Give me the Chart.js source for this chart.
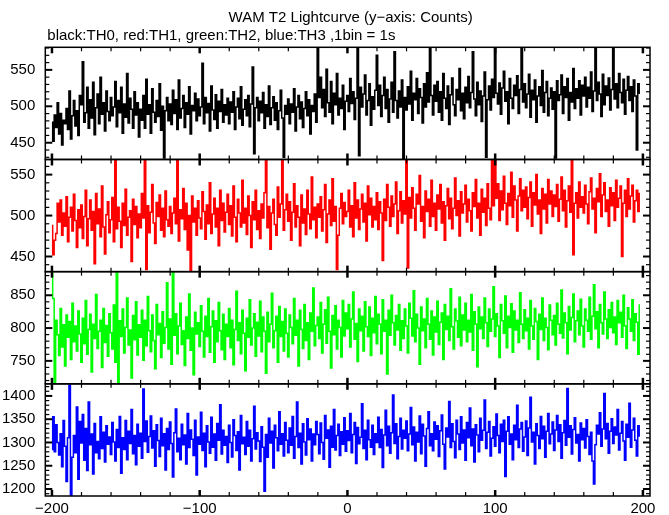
<!DOCTYPE html>
<html>
<head>
<meta charset="utf-8">
<title>WAM T2 Lightcurve</title>
<script src="https://cdn.jsdelivr.net/npm/chart.js@4/dist/chart.umd.min.js"></script>
<style>
  html, body { margin: 0; padding: 0; background: #fff; }
  canvas { display: block; }
</style>
</head>
<body>
<canvas id="lc" width="669" height="515"></canvas>
<script>
// Light curve values, one bin per second starting at t = -200 s
const binStart = -200;

const th0Counts = [
  478, 452, 488, 471, 505, 462, 490, 447, 481, 476, 497, 468, 521, 455, 487, 508, 473, 494, 460, 515,
  502, 561, 478, 491, 526, 470, 509, 484, 533, 461, 498, 517, 476, 540, 489, 505, 466, 521, 493, 480,
  512, 487, 499, 534, 472, 508, 491, 526, 463, 503, 485, 545, 477, 511, 496, 470, 520, 488, 505, 458,
  496, 481, 515, 470, 537, 489, 502, 463, 524, 492, 478, 508, 486, 531, 467, 500, 429, 494, 512, 480,
  503, 475, 522, 490, 509, 468, 536, 484, 497, 515, 471, 505, 489, 527, 462, 501, 494, 518, 480, 510,
  487, 499, 559, 476, 512, 491, 504, 466, 528, 495, 482, 516, 470, 507, 493, 523, 478, 502, 488, 511,
  476, 506, 492, 520, 468, 499, 511, 483, 527, 474, 496, 509, 487, 515, 472, 503, 554, 435, 498, 512,
  480, 507, 491, 519, 470, 502, 486, 528, 475, 498, 513, 481, 505, 468, 494, 522, 484, 430, 501, 489,
  510, 476, 503, 492, 524, 466, 499, 515, 483, 506, 471, 497, 520, 487, 509, 462, 501, 493, 517, 478,
  580, 512, 540, 498, 523, 486, 551, 505, 492, 534, 476, 518, 502, 545, 488, 511, 497, 529, 468, 507,
  515, 493, 538, 504, 520, 482, 511, 579, 432, 526, 499, 517, 543, 488, 508, 531, 474, 513, 496, 522,
  570, 501, 529, 486, 515, 540, 497, 523, 478, 510, 533, 492, 575, 508, 484, 521, 499, 536, 428, 512,
  495, 527, 503, 548, 481, 518, 509, 538, 490, 524, 512, 477, 531, 499, 546, 506, 580, 515, 488, 529,
  507, 534, 492, 520, 481, 545, 511, 497, 528, 475, 516, 539, 502, 487, 523, 509, 552, 494, 518, 483,
  526, 505, 541, 498, 519, 575, 510, 487, 533, 502, 521, 479, 514, 547, 430, 509, 528, 495, 537, 512,
  580, 518, 503, 532, 489, 525, 548, 507, 520, 476, 538, 511, 497, 529, 515, 542, 490, 523, 580, 506,
  531, 498, 517, 544, 485, 522, 509, 536, 478, 514, 527, 501, 549, 492, 519, 534, 487, 511, 525, 496,
  520, 429, 535, 508, 516, 543, 490, 527, 512, 538, 481, 519, 506, 552, 497, 524, 511, 535, 488, 529,
  514, 540, 499, 526, 511, 547, 493, 521, 580, 508, 533, 517, 486, 544, 502, 528, 515, 539, 495, 523,
  580, 510, 531, 498, 545, 519, 505, 537, 489, 522, 541, 508, 527, 493, 536, 514, 440, 531, 518
];

const th1Counts = [
  488, 452, 470, 478, 515, 492, 519, 476, 503, 487, 523, 468, 498, 510, 481, 526, 494, 461, 507, 485,
  513, 472, 499, 531, 463, 496, 519, 482, 505, 441, 527, 490, 508, 474, 536, 486, 453, 501, 517, 479,
  495, 522, 468, 568, 484, 510, 493, 461, 515, 488, 532, 476, 498, 506, 444, 520, 489, 511, 473, 502,
  485, 527, 497, 568, 434, 512, 479, 504, 538, 491, 466, 516, 499, 525, 482, 509, 474, 530, 495, 487,
  511, 478, 503, 521, 490, 568, 469, 507, 496, 533, 483, 515, 458, 500, 432, 524, 492, 509, 476, 518,
  497, 484, 529, 505, 471, 513, 490, 540, 478, 502, 521, 486, 509, 463, 531, 494, 515, 480, 504, 526,
  489, 512, 475, 536, 498, 468, 520, 503, 486, 543, 491, 509, 477, 524, 500, 461, 517, 495, 531, 483,
  506, 472, 514, 497, 528, 568, 485, 511, 459, 503, 520, 489, 476, 535, 498, 514, 568, 482, 507, 526,
  493, 517, 470, 504, 539, 486, 512, 498, 463, 525, 491, 508, 477, 531, 502, 484, 547, 495, 510, 473,
  514, 498, 523, 481, 507, 538, 467, 502, 519, 488, 545, 493, 511, 434, 476, 509, 527, 490, 516, 499,
  505, 531, 486, 512, 474, 540, 497, 519, 483, 508, 526, 492, 515, 469, 536, 501, 521, 486, 511, 495,
  528, 483, 517, 503, 445, 520, 494, 538, 510, 487, 524, 499, 514, 541, 478, 506, 529, 491, 518, 502,
  568, 436, 522, 497, 534, 509, 482, 526, 514, 549, 493, 511, 473, 530, 505, 520, 487, 543, 499, 515,
  482, 525, 508, 538, 491, 517, 470, 512, 533, 496, 521, 484, 509, 546, 500, 518, 475, 529, 503, 514,
  537, 492, 520, 506, 481, 528, 511, 544, 497, 515, 476, 532, 504, 521, 488, 539, 509, 495, 568, 512,
  568, 521, 539, 494, 530, 507, 548, 515, 489, 527, 512, 553, 498, 536, 519, 481, 524, 545, 506, 531,
  510, 535, 496, 522, 541, 487, 528, 513, 550, 502, 519, 478, 533, 508, 526, 491, 544, 514, 530, 499,
  525, 511, 538, 493, 520, 547, 506, 531, 486, 518, 536, 504, 568, 452, 515, 528, 497, 541, 510, 523,
  503, 537, 514, 490, 529, 546, 508, 521, 479, 533, 517, 551, 499, 525, 540, 505, 519, 487, 534, 512,
  528, 494, 543, 510, 521, 536, 450, 515, 531, 499, 545, 508, 524, 537, 492, 518, 531, 505, 527
];

const th2Counts = [
  885, 845, 717, 812, 790, 758, 830, 771, 805, 742, 820, 786, 810, 752, 838, 779, 803, 765, 826, 791,
  748, 815, 776, 842, 760, 798, 821, 733, 806, 784, 851, 769, 795, 812, 740, 830, 778, 804, 757, 822,
  793, 768, 835, 748, 885, 717, 811, 787, 829, 762, 801, 846, 774, 797, 724, 819, 782, 840, 759, 805,
  786, 827, 751, 812, 773, 848, 796, 764, 820, 781, 738, 836, 790, 807, 755, 825, 777, 801, 869, 768,
  814, 745, 885, 789, 822, 761, 803, 838, 775, 796, 743, 817, 784, 852, 766, 800, 729, 824, 791, 808,
  772, 834, 795, 756, 818, 787, 845, 763, 802, 826, 748, 811, 779, 839, 796, 767, 821, 752, 806, 787,
  830, 770, 812, 744, 798, 856, 781, 808, 761, 827, 792, 735, 815, 786, 843, 774, 800, 822, 757, 809,
  788, 841, 764, 817, 795, 731, 824, 779, 806, 853, 770, 796, 818, 748, 833, 787, 810, 765, 829, 792,
  756, 820, 801, 776, 845, 789, 812, 742, 827, 798, 769, 836, 781, 808, 752, 823, 795, 861, 773, 804,
  817, 784, 839, 762, 806, 828, 777, 847, 795, 739, 819, 790, 834, 768, 812, 801, 756, 842, 788, 823,
  799, 836, 771, 814, 855, 783, 807, 749, 829, 796, 818, 765, 840, 802, 787, 832, 758, 815, 793, 848,
  776, 821, 806, 761, 843, 795, 812, 730, 827, 789, 850, 808, 774, 819, 797, 836, 766, 811, 784, 829,
  803, 762, 838, 815, 788, 857, 779, 821, 800, 745, 832, 796, 814, 770, 845, 806, 783, 826, 759, 817,
  794, 841, 775, 809, 823, 752, 836, 798, 818, 781, 860, 802, 768, 829, 811, 786, 847, 773, 820, 797,
  838, 779, 812, 794, 851, 766, 825, 806, 741, 832, 799, 817, 784, 846, 808, 772, 829, 795, 814, 863,
  787, 822, 803, 755, 836, 811, 792, 849, 770, 818, 801, 837, 763, 826, 797, 812, 778, 854, 806, 784,
  828, 796, 815, 768, 842, 803, 783, 830, 810, 752, 821, 798, 846, 781, 815, 801, 767, 835, 812, 790,
  819, 774, 838, 806, 792, 858, 785, 823, 808, 761, 833, 797, 816, 852, 779, 811, 826, 790, 844, 803,
  771, 829, 812, 795, 847, 783, 818, 866, 799, 825, 770, 836, 808, 791, 855, 814, 784, 828, 801, 839,
  793, 817, 775, 842, 808, 824, 786, 850, 803, 769, 831, 814, 795, 843, 781, 822, 809, 760, 835
];

const th3Counts = [
  1285, 1355, 1280, 1338, 1300, 1273, 1319, 1248, 1347, 1292, 1216, 1310, 1423, 1186, 1268, 1315, 1278, 1376, 1221, 1345,
  1299, 1360, 1262, 1330, 1240, 1387, 1295, 1318, 1232, 1341, 1278, 1302, 1265, 1355, 1287, 1322, 1258, 1336, 1296, 1312,
  1274, 1343, 1301, 1260, 1328, 1289, 1356, 1234, 1310, 1285, 1347, 1263, 1324, 1298, 1371, 1276, 1315, 1252, 1339, 1292,
  1320, 1266, 1415, 1302, 1346, 1279, 1313, 1357, 1288, 1325, 1249, 1338, 1304, 1270, 1352, 1293, 1319, 1241, 1330, 1285,
  1344, 1298, 1226, 1321, 1372, 1280, 1309, 1263, 1339, 1295, 1316, 1254, 1362, 1289, 1327, 1307, 1272, 1348, 1230, 1312,
  1296, 1365, 1283, 1320, 1248, 1336, 1301, 1277, 1354, 1290, 1318, 1262, 1341, 1305, 1381, 1275, 1326, 1294, 1313, 1257,
  1337, 1300, 1269, 1349, 1315, 1283, 1323, 1241, 1358, 1297, 1311, 1274, 1345, 1292, 1326, 1260, 1308, 1378, 1286, 1321,
  1303, 1259, 1334, 1290, 1195, 1317, 1268, 1352, 1299, 1324, 1245, 1337, 1310, 1282, 1366, 1296, 1319, 1271, 1343, 1305,
  1278, 1331, 1294, 1356, 1266, 1313, 1387, 1289, 1320, 1254, 1340, 1301, 1273, 1351, 1306, 1329, 1260, 1318, 1295, 1345,
  1317, 1276, 1342, 1300, 1264, 1358, 1309, 1327, 1247, 1335, 1290, 1371, 1284, 1315, 1339, 1272, 1323, 1296, 1353, 1281,
  1325, 1304, 1362, 1278, 1317, 1343, 1255, 1332, 1297, 1311, 1383, 1287, 1326, 1263, 1348, 1306, 1290, 1337, 1274, 1319,
  1300, 1354, 1289, 1328, 1246, 1316, 1369, 1293, 1335, 1277, 1321, 1402, 1298, 1340, 1265, 1313, 1352, 1286, 1326, 1309,
  1346, 1282, 1318, 1375, 1295, 1333, 1260, 1322, 1301, 1357, 1276, 1339, 1314, 1249, 1330, 1366, 1293, 1319, 1282, 1344,
  1307, 1336, 1270, 1325, 1359, 1296, 1243, 1331, 1312, 1388, 1289, 1340, 1302, 1267, 1348, 1318, 1285, 1355, 1299, 1327,
  1262, 1343, 1310, 1374, 1293, 1329, 1258, 1338, 1316, 1280, 1352, 1305, 1326, 1391, 1287, 1322, 1345, 1271, 1309, 1334,
  1292, 1361, 1315, 1278, 1339, 1302, 1348, 1227, 1324, 1355, 1296, 1318, 1263, 1337, 1306, 1380, 1289, 1329, 1343, 1281,
  1312, 1346, 1272, 1331, 1397, 1301, 1322, 1254, 1340, 1315, 1287, 1356, 1308, 1335, 1268, 1324, 1362, 1297, 1318, 1344,
  1283, 1327, 1358, 1302, 1338, 1266, 1321, 1347, 1294, 1416, 1311, 1336, 1275, 1328, 1353, 1299, 1317, 1260, 1342, 1306,
  1330, 1288, 1349, 1313, 1274, 1322, 1260, 1211, 1295, 1337, 1318, 1364, 1292, 1329, 1405, 1308, 1341, 1277, 1324, 1351,
  1298, 1333, 1316, 1371, 1284, 1320, 1345, 1303, 1262, 1339, 1311, 1384, 1290, 1327, 1352, 1305, 1271, 1336, 1314
];

// Panel names, colours, y ranges and labelled ticks (top panel first)
const panelIds = ['y1', 'y2', 'y3', 'y4'];
const panelColors = ['#000000', '#ff0000', '#00ff00', '#0000ff'];
const panelRanges = [[427, 581], [431.5, 568.5], [715, 886], [1185, 1426]];
const panelTicks = [
  [450, 500, 550],
  [450, 500, 550],
  [750, 800, 850],
  [1200, 1250, 1300, 1350, 1400]
];
const timeRange = [-204.5, 204.8];
const timeTicks = [-200, -100, 0, 100, 200];

const titleText = 'WAM T2 Lightcurve (y\u2212axis: Counts)';
const subtitleText = 'black:TH0, red:TH1, green:TH2, blue:TH3 ,1bin = 1s';

const fontFamily = '"Liberation Sans", Arial, Helvetica, sans-serif';

function toPoints(counts) {
  return counts.map((c, i) => ({ x: binStart + i, y: c }));
}

function minusLabel(v) {
  return v < 0 ? '\u2212' + Math.abs(v) : String(v);
}

// Draws frame boxes, inward ticks and the two header lines
const framePlugin = {
  id: 'framePlugin',
  afterDatasetsDraw(chart) {
    const { ctx, chartArea: area, scales } = chart;
    const xs = scales.x;
    ctx.save();
    ctx.strokeStyle = '#000';

    const seg = (x1, y1, x2, y2, w) => {
      ctx.lineWidth = w;
      ctx.beginPath();
      ctx.moveTo(x1, y1);
      ctx.lineTo(x2, y2);
      ctx.stroke();
    };

    panelIds.forEach(id => {
      const s = scales[id];
      ctx.lineWidth = 1.5;
      ctx.strokeRect(area.left, s.top, area.right - area.left, s.bottom - s.top);

      for (let v = Math.ceil(s.min / 10) * 10; v <= s.max; v += 10) {
        const py = s.getPixelForValue(v);
        const major = v % 50 === 0;
        const len = major ? 7 : 4;
        const w = major ? 2 : 1.2;
        seg(area.left, py, area.left + len, py, w);
        seg(area.right, py, area.right - len, py, w);
      }

      for (let v = Math.ceil(xs.min / 20) * 20; v <= xs.max; v += 20) {
        const px = xs.getPixelForValue(v);
        const major = v % 100 === 0;
        const len = major ? 6 : 4;
        const w = major ? 2.5 : 1.2;
        seg(px, s.top, px, s.top + len, w);
        seg(px, s.bottom, px, s.bottom - len, w);
      }
    });

    ctx.fillStyle = '#000';
    ctx.font = '15px ' + fontFamily;
    ctx.textBaseline = 'alphabetic';
    ctx.textAlign = 'center';
    ctx.fillText(titleText, (area.left + area.right) / 2 + 3, 22);
    ctx.textAlign = 'left';
    ctx.fillText(subtitleText, area.left + 2, 40);
    ctx.restore();
  }
};

const allCounts = [th0Counts, th1Counts, th2Counts, th3Counts];

const datasets = allCounts.map((counts, i) => ({
  data: toPoints(counts),
  yAxisID: panelIds[i],
  borderColor: panelColors[i],
  borderWidth: 1.5,
  pointRadius: 0,
  stepped: 'middle',
  fill: false,
  clip: 0
}));

const scales = {
  x: {
    type: 'linear',
    position: 'bottom',
    min: timeRange[0],
    max: timeRange[1],
    grid: { display: false, drawTicks: false },
    border: { display: false },
    afterBuildTicks: s => { s.ticks = timeTicks.map(v => ({ value: v })); },
    ticks: {
      maxRotation: 0,
      autoSkip: false,
      padding: 4,
      color: '#000',
      font: { family: fontFamily, size: 15 },
      callback: v => minusLabel(v)
    },
    afterFit: s => { s.height = 18; }
  }
};

// Stacked y axes: the first one defined sits at the bottom, so go in reverse
for (let i = panelIds.length - 1; i >= 0; i--) {
  const tickValues = panelTicks[i];
  scales[panelIds[i]] = {
    type: 'linear',
    position: 'left',
    stack: 'panels',
    stackWeight: 1,
    min: panelRanges[i][0],
    max: panelRanges[i][1],
    grid: { display: false, drawTicks: false },
    border: { display: false },
    afterBuildTicks: s => { s.ticks = tickValues.map(v => ({ value: v })); },
    ticks: {
      autoSkip: false,
      padding: 10,
      color: '#000',
      font: { family: fontFamily, size: 15 },
      callback: v => minusLabel(v)
    },
    afterFit: s => { s.width = 45.3; }
  };
}

new Chart(document.getElementById('lc'), {
  type: 'line',
  data: { datasets },
  options: {
    responsive: false,
    devicePixelRatio: 1,
    animation: false,
    layout: { padding: { top: 47.3, right: 19, bottom: 0, left: 0 } },
    plugins: {
      legend: { display: false },
      title: { display: false },
      tooltip: { enabled: false }
    },
    scales
  },
  plugins: [framePlugin]
});
</script>
</body>
</html>
